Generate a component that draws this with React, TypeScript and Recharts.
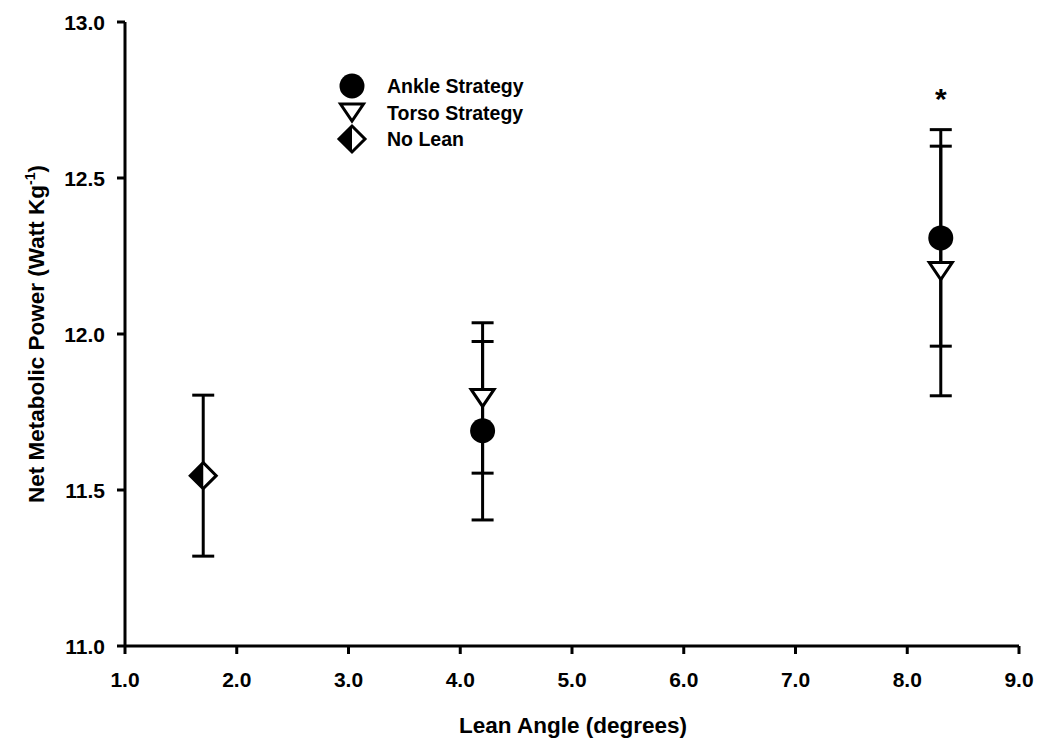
import React from 'react';
import { ScatterChart, Scatter, XAxis, YAxis, ErrorBar, Legend } from 'recharts';

// ---- data ----
const ankleX = [4.2, 8.3];
const ankleY = [11.69, 12.308];
const ankleErr = [0.286, 0.347];

const torsoX = [4.2, 8.3];
const torsoY = [11.795, 12.202];
const torsoErr = [0.241, 0.4];

const noLeanX = [1.7];
const noLeanY = [11.546];
const noLeanErr = [0.258];

const starX = [8.3];
const starY = [12.772];
const starText = ['*'];

const xTicks = [1, 2, 3, 4, 5, 6, 7, 8, 9];
const yTicks = [11, 11.5, 12, 12.5, 13];

const legendLabels = ['Ankle Strategy', 'Torso Strategy', 'No Lean'];
const xTitle = 'Lean Angle (degrees)';
const yTitleMain = 'Net Metabolic Power (Watt Kg';
const yTitleSup = '-1';
const yTitleEnd = ')';

const FONT = '"Liberation Sans", Arial, Helvetica, sans-serif';
const TICK_FONT_SIZE = 21;

const build = (xs: number[], ys: number[], es: number[]) =>
  xs.map((x, i) => ({ x, y: ys[i], err: es[i] }));

const ankleData = build(ankleX, ankleY, ankleErr);
const torsoData = build(torsoX, torsoY, torsoErr);
const noLeanData = build(noLeanX, noLeanY, noLeanErr);
const starData = starX.map((x, i) => ({ x, y: starY[i], t: starText[i] }));

// ---- marker shapes ----
const Circle = ({ cx, cy }: any) => <circle cx={cx} cy={cy} r={12.5} fill="#000" />;

const TriDown = ({ cx, cy }: any) => (
  <polygon
    points={`${cx - 11.5},${cy - 8.5} ${cx + 11.5},${cy - 8.5} ${cx},${cy + 8.5}`}
    fill="#fff"
    stroke="#000"
    strokeWidth={3}
    strokeLinejoin="miter"
  />
);

const HalfDiamond = ({ cx, cy }: any) => (
  <g>
    <polygon
      points={`${cx},${cy - 13} ${cx + 13},${cy} ${cx},${cy + 13} ${cx - 13},${cy}`}
      fill="#fff"
      stroke="#000"
      strokeWidth={3}
    />
    <polygon points={`${cx},${cy - 13} ${cx},${cy + 13} ${cx - 13},${cy}`} fill="#000" />
  </g>
);

const Empty = () => <g />;

const Star = ({ cx, cy, payload }: any) => (
  <text
    x={cx}
    y={cy + 16}
    textAnchor="middle"
    fontSize={30}
    fontWeight="bold"
    fontFamily={FONT}
    fill="#000"
  >
    {payload.t}
  </text>
);

const legendShapes = [Circle, TriDown, HalfDiamond];

const LegendContent = () => (
  <svg width={240} height={92} style={{ display: 'block', overflow: 'visible' }}>
    {legendLabels.map((label, i) => {
      const cy = 18 + i * 26.5;
      const Shape = legendShapes[i];
      return (
        <g key={label}>
          <Shape cx={22} cy={cy} />
          <text
            x={57}
            y={cy + 7}
            fontSize={19.5}
            fontWeight="bold"
            fontFamily={FONT}
            fill="#000"
          >
            {label}
          </text>
        </g>
      );
    })}
  </svg>
);

const renderXTick = (p: any) => (
  <text
    key={`xt-${p.payload.value}`}
    x={p.x}
    y={p.y}
    dy="0.71em"
    textAnchor="middle"
    style={{ fontSize: TICK_FONT_SIZE, fontWeight: 700, fontFamily: FONT, fill: '#000' }}
  >
    {Number(p.payload.value).toFixed(1)}
  </text>
);

const renderYTick = (p: any) => (
  <text
    key={`yt-${p.payload.value}`}
    x={p.x}
    y={p.y}
    dy="0.36em"
    textAnchor="end"
    style={{ fontSize: TICK_FONT_SIZE, fontWeight: 700, fontFamily: FONT, fill: '#000' }}
  >
    {Number(p.payload.value).toFixed(1)}
  </text>
);

export default function App() {
  return (
    <div
      style={{
        position: 'absolute',
        left: 0,
        top: 0,
        width: 1054,
        height: 740,
        background: '#fff',
        fontFamily: FONT,
      }}
    >
      <ScatterChart width={1054} height={740} margin={{ top: 22, right: 35, left: 0, bottom: 0 }}>
        <XAxis
          type="number"
          dataKey="x"
          domain={[1, 9]}
          ticks={xTicks}
          allowDataOverflow
          height={94}
          tick={renderXTick}
          tickSize={8}
          tickMargin={18}
          axisLine={{ stroke: '#000', strokeWidth: 3 }}
          tickLine={{ stroke: '#000', strokeWidth: 3 }}
          label={{
            content: () => (
              <text
                x={573}
                y={733}
                textAnchor="middle"
                fontSize={22.5}
                fontWeight="bold"
                fontFamily={FONT}
                fill="#000"
              >
                {xTitle}
              </text>
            ),
          }}
        />
        <YAxis
          type="number"
          dataKey="y"
          domain={[11, 13]}
          ticks={yTicks}
          allowDataOverflow
          width={125}
          tick={renderYTick}
          tickSize={8}
          tickMargin={12}
          axisLine={{ stroke: '#000', strokeWidth: 3 }}
          tickLine={{ stroke: '#000', strokeWidth: 3 }}
          label={{
            content: () => (
              <text
                transform="translate(44,334) rotate(-90)"
                textAnchor="middle"
                fontSize={22.5}
                fontWeight="bold"
                fontFamily={FONT}
                fill="#000"
              >
                {yTitleMain}
                <tspan fontSize={14} dy={-9}>
                  {yTitleSup}
                </tspan>
                <tspan dy={9}>{yTitleEnd}</tspan>
              </text>
            ),
          }}
        />
        <Legend
          layout="vertical"
          align="center"
          verticalAlign="middle"
          wrapperStyle={{ position: 'absolute', left: 330, top: 68, width: 240, height: 92 }}
          content={() => <LegendContent />}
        />

        {/* error bars first, so all markers sit on top */}
        <Scatter data={ankleData} shape={Empty} isAnimationActive={false} legendType="none">
          <ErrorBar dataKey="err" direction="y" width={11} strokeWidth={3} stroke="#000" />
        </Scatter>
        <Scatter data={torsoData} shape={Empty} isAnimationActive={false} legendType="none">
          <ErrorBar dataKey="err" direction="y" width={11} strokeWidth={3} stroke="#000" />
        </Scatter>
        <Scatter data={noLeanData} shape={Empty} isAnimationActive={false} legendType="none">
          <ErrorBar dataKey="err" direction="y" width={11} strokeWidth={3} stroke="#000" />
        </Scatter>

        <Scatter name="Ankle Strategy" data={ankleData} shape={Circle} isAnimationActive={false} />
        <Scatter name="Torso Strategy" data={torsoData} shape={TriDown} isAnimationActive={false} />
        <Scatter name="No Lean" data={noLeanData} shape={HalfDiamond} isAnimationActive={false} />
        <Scatter data={starData} shape={Star} isAnimationActive={false} legendType="none" />
      </ScatterChart>
    </div>
  );
}
